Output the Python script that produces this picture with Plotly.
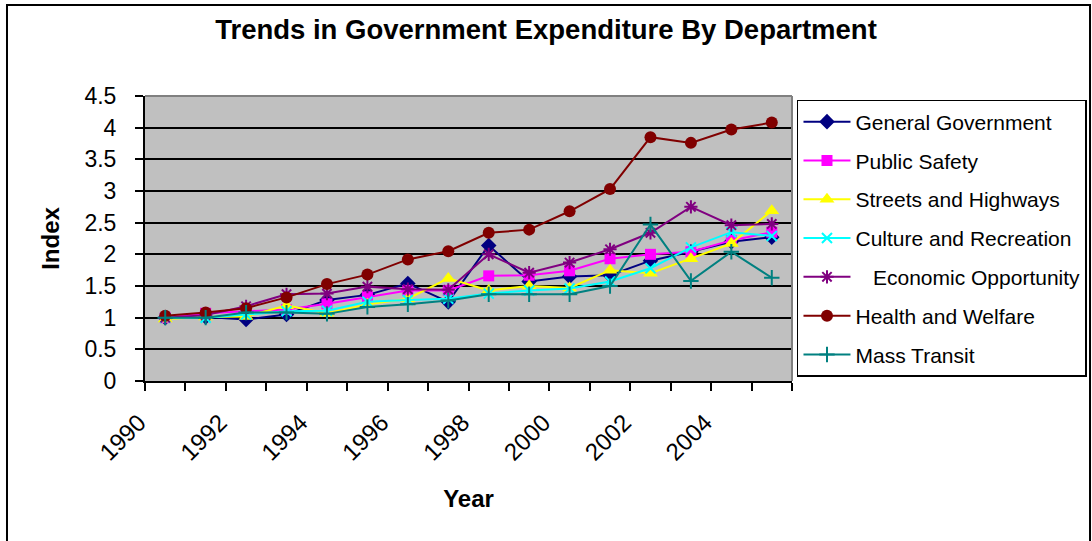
import plotly.graph_objects as go

years = list(range(1990, 2006))
general_government = [1.0, 1.01, 0.97, 1.05, 1.28, 1.36, 1.54, 1.25, 2.14, 1.57, 1.65, 1.67, 1.9, 2.04, 2.2, 2.27]
public_safety = [1.0, 1.07, 1.1, 1.13, 1.22, 1.33, 1.43, 1.43, 1.66, 1.67, 1.74, 1.93, 2.0, 2.04, 2.22, 2.35]
streets_highways = [0.98, 1.01, 1.02, 1.19, 1.07, 1.21, 1.3, 1.62, 1.43, 1.5, 1.47, 1.75, 1.7, 1.93, 2.17, 2.69]
culture_recreation = [1.0, 1.0, 1.05, 1.1, 1.11, 1.25, 1.28, 1.3, 1.38, 1.43, 1.46, 1.57, 1.78, 2.11, 2.35, 2.29]
economic_opportunity = [1.0, 1.04, 1.18, 1.37, 1.38, 1.49, 1.45, 1.44, 2.0, 1.71, 1.87, 2.08, 2.34, 2.75, 2.46, 2.48]
health_welfare = [1.03, 1.08, 1.15, 1.32, 1.53, 1.68, 1.92, 2.05, 2.34, 2.39, 2.68, 3.03, 3.85, 3.76, 3.97, 4.08]
mass_transit = [1.0, 1.0, 1.08, 1.08, 1.06, 1.17, 1.21, 1.27, 1.37, 1.37, 1.37, 1.5, 2.47, 1.58, 2.04, 1.63]

series = [
    ("General Government", general_government, "#000080", "diamond", 12),
    ("Public Safety", public_safety, "#FF00FF", "square", 11),
    ("Streets and Highways", streets_highways, "#FFFF00", "triangle-up", 13),
    ("Culture and Recreation", culture_recreation, "#00FFFF", "x-thin-open", 10),
    ("\u00a0\u00a0\u00a0Economic Opportunity", economic_opportunity, "#800080", "asterisk-open", 11),
    ("Health and Welfare", health_welfare, "#800000", "circle", 12),
    ("Mass Transit", mass_transit, "#008080", "cross-thin-open", 11),
]

# category centres on a numeric axis (category i spans [i, i+1])
xpos = [i + 0.5 for i in range(len(years))]

fig = go.Figure()
for i, (name, vals, color, sym, size) in enumerate(series):
    fig.add_trace(go.Scatter(
        x=xpos, y=vals, name=name, mode="lines+markers",
        legendgroup=f"g{i}",
        line=dict(color=color, width=2),
        marker=dict(symbol=sym, size=size, color=color,
                    line=dict(color=color, width=2 if "open" in sym else 0)),
    ))

tickvals = list(range(len(years) + 1))
ticktext = [str(years[i]) if (i < len(years) and i % 2 == 0) else "" for i in tickvals]

FONT = "Liberation Sans, Arial, sans-serif"
fig.update_layout(
    width=1092, height=541,
    margin=dict(l=145, r=300, t=96, b=160, autoexpand=False),
    paper_bgcolor="white",
    plot_bgcolor="#C0C0C0",
    font=dict(family=FONT, color="black"),
    title=dict(text="<b>Trends in Government Expenditure By Department</b>",
               x=0.5, xanchor="center", xref="container", y=0.945, yanchor="middle",
               font=dict(size=27.5, family=FONT, color="black")),
    showlegend=True,
    legend=dict(x=1.0077, xanchor="left", y=0.986, yanchor="top",
                bordercolor="black", borderwidth=1.5, bgcolor="white",
                font=dict(size=21, family=FONT), tracegroupgap=8.5,
                itemwidth=47),
    xaxis=dict(range=[0, 16], tickmode="array", tickvals=tickvals, ticktext=ticktext,
               tickangle=-45, ticks="outside", ticklen=8, tickwidth=1.5, tickcolor="black",
               showgrid=False, zeroline=False, showline=True, linecolor="black", linewidth=2,
               tickfont=dict(size=24, family=FONT), ticklabelshift=-6, ticklabelstandoff=8,
               title=dict(text="<b>Year</b>", font=dict(size=24, family=FONT), standoff=26)),
    yaxis=dict(range=[0, 4.5], tickmode="linear", tick0=0, dtick=0.5,
               ticks="outside", ticklen=8, tickwidth=1.5, tickcolor="black",
               showgrid=True, gridcolor="black", gridwidth=1.5,
               zeroline=False, showline=True, linecolor="black", linewidth=2,
               tickfont=dict(size=23, family=FONT), ticklabelstandoff=14,
               title=dict(text="<b>Index</b>", font=dict(size=24, family=FONT), standoff=18)),
    shapes=[
        dict(type="line", xref="paper", yref="paper", x0=0, x1=1, y0=1, y1=1,
             line=dict(color="#808080", width=2), layer="above"),
        dict(type="line", xref="paper", yref="paper", x0=1, x1=1, y0=0, y1=1,
             line=dict(color="#808080", width=2), layer="above"),
        dict(type="rect", xref="paper", yref="paper", x0=-0.2133, x1=1.4606, y0=-0.58, y1=1.3193,
             line=dict(color="black", width=2), fillcolor="rgba(0,0,0,0)", layer="above"),
    ],
)

fig.write_html("out.html", config={"displayModeBar": False},
               post_script="document.body.style.margin='0px';")
